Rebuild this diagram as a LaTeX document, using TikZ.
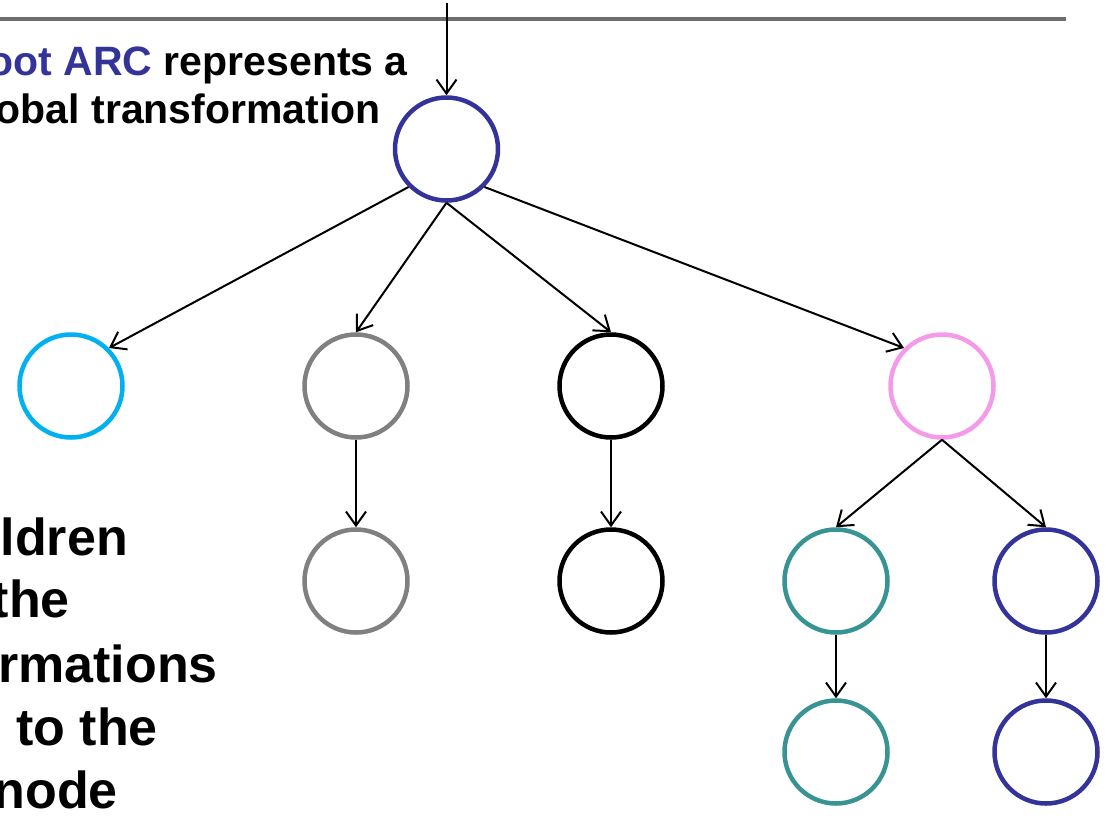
\documentclass[tikz,border=0pt]{standalone}
\usepackage{fontspec}
\setmainfont{Liberation Sans}
\usetikzlibrary{arrows.meta}
\definecolor{navyc}{RGB}{51,51,153}
\definecolor{cyanc}{RGB}{0,176,240}
\definecolor{grayc}{RGB}{128,128,128}
\definecolor{pinkc}{RGB}{243,155,233}
\definecolor{tealc}{RGB}{56,148,148}
\definecolor{linec}{RGB}{110,110,110}
\begin{document}
\begin{tikzpicture}[x=1pt,y=-1pt,
  nd/.style={circle, draw=#1, line width=4.5pt, minimum size=103pt, inner sep=0pt},
  arr/.style={-{Straight Barb[length=14pt,width=20pt]}, line width=2pt},
  toptxt/.style={anchor=base east, inner sep=0pt, font=\fontsize{41}{49}\selectfont\bfseries},
  bottxt/.style={anchor=base east, inner sep=0pt, font=\fontsize{52}{62}\selectfont\bfseries}]
\useasboundingbox (0,0) rectangle (1114,815);
% header rule
\coordinate (l0) at (0,19);
\coordinate (l1) at (1066,19);
\draw[line width=4pt, linec] (l0) -- (l1);
% nodes
\node[nd=navyc] (r) at (446.5,149) {};
\node[nd=cyanc] (a) at (71,386) {};
\node[nd=grayc] (b) at (356,386) {};
\node[nd=black] (c) at (611,386) {};
\node[nd=pinkc] (d) at (942,386) {};
\node[nd=grayc] (b2) at (356,581) {};
\node[nd=black] (c2) at (611,581) {};
\node[nd=tealc] (e) at (836,581) {};
\node[nd=navyc] (f) at (1046,581) {};
\node[nd=tealc] (e2) at (836,752) {};
\node[nd=navyc] (f2) at (1046,752) {};
% connectors
\coordinate (t) at (446.5,3);
\draw[arr] (t) -- (r.north);
\draw[arr] (r.south west) -- (a.north east);
\draw[arr] (r.south) -- (b.north);
\draw[arr] (r.south) -- (c.north);
\draw[arr] (r.south east) -- (d.north west);
\draw[arr] (b.south) -- (b2.north);
\draw[arr] (c.south) -- (c2.north);
\draw[arr] (d.south) -- (e.north);
\draw[arr] (d.south) -- (f.north);
\draw[arr] (e.south) -- (e2.north);
\draw[arr] (f.south) -- (f2.north);
% texts
\node[toptxt] (t1) at (408,75) {\textcolor{navyc}{oot ARC} represents a};
\node[toptxt] (t2) at (381,123) {obal transformation};
\node[bottxt] (s1) at (128,555) {ldren};
\node[bottxt] (s2) at (70,617) {the};
\node[bottxt] (s3) at (218,682) {rmations};
\node[bottxt] (s4) at (158,745) {to the};
\node[bottxt] (s5) at (118,808) {node};
\end{tikzpicture}
\end{document}
